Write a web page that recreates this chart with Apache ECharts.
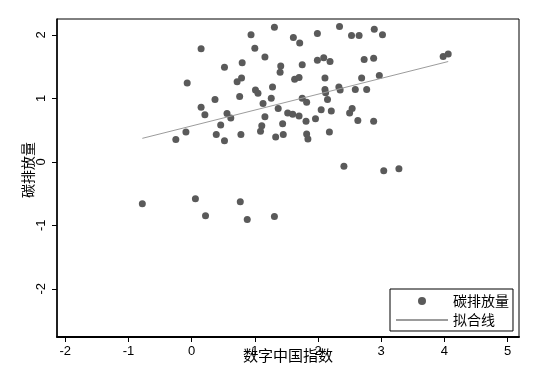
<!DOCTYPE html>
<html>
<head>
<meta charset="utf-8">
<script src="https://cdn.jsdelivr.net/npm/echarts@6/dist/echarts.min.js"></script>
<style>
html,body{margin:0;padding:0;background:#fff;}
#chart{width:538px;height:376px;}
</style>
</head>
<body>
<div id="chart"></div>
<script>
// Scatter data (数字中国指数 vs 碳排放量)
var xVals = [1.31,0.94,1.61,1.71,0.15,1.00,1.16,0.52,0.80,1.41,1.40,1.63,1.70,-0.07,0.79,0.72,0.37,0.76,1.01,1.05,
  1.28,1.26,1.13,1.37,0.15,0.21,0.56,0.62,1.52,1.60,1.70,1.16,0.46,1.11,1.09,1.44,-0.09,-0.25,0.39,0.52,
  0.78,1.33,1.45,2.34,1.99,2.53,2.65,2.89,3.02,1.75,1.99,2.09,2.19,2.73,2.88,3.98,4.06,2.11,2.69,2.97,
  2.11,2.12,2.33,2.35,2.59,2.77,1.75,1.82,2.15,2.05,2.21,2.54,2.50,1.81,1.96,2.63,2.88,1.82,1.84,2.18,
  2.41,3.04,3.28,-0.78,0.06,0.22,0.77,0.88,1.31];
var yVals = [2.12,2.00,1.96,1.87,1.78,1.79,1.65,1.49,1.56,1.51,1.41,1.30,1.33,1.24,1.32,1.26,0.98,1.03,1.13,1.08,
  1.18,1.00,0.92,0.84,0.86,0.74,0.76,0.69,0.77,0.75,0.72,0.71,0.58,0.57,0.48,0.60,0.47,0.35,0.43,0.33,
  0.43,0.39,0.43,2.13,2.02,1.99,1.99,2.09,2.00,1.53,1.60,1.64,1.58,1.61,1.63,1.66,1.70,1.32,1.32,1.36,
  1.14,1.09,1.18,1.13,1.14,1.14,1.00,0.94,0.98,0.82,0.80,0.84,0.77,0.64,0.68,0.65,0.64,0.44,0.36,0.47,
  -0.07,-0.14,-0.11,-0.66,-0.58,-0.85,-0.63,-0.91,-0.86];
// Linear fit endpoints
var fitX = [-0.78, 4.06];
var fitY = [0.37, 1.58];
// Tick labels
var xTicks = [-2,-1,0,1,2,3,4,5];
var yTicks = [-2,-1,0,1,2];
var seriesNames = ['碳排放量','拟合线'];
var xTitle = '数字中国指数';
var yTitle = '碳排放量';

var scatterData = xVals.map(function(v,i){return [v, yVals[i]];});
var fitData = fitX.map(function(v,i){return [v, fitY[i]];});

var latin = '"Liberation Sans", Arial, sans-serif';
var cjk = '"Noto Sans CJK SC", sans-serif';

var chart = echarts.init(document.getElementById('chart'), null, {renderer:'canvas'});
chart.setOption({
  animation:false,
  backgroundColor:'#fff',
  grid:{left:57,right:19,top:19,bottom:39,show:true,borderColor:'#000',borderWidth:1,backgroundColor:'#fff'},
  xAxis:{
    type:'value', min:-2.13, max:5.18,
    splitLine:{show:false},
    axisLine:{show:true,onZero:false,lineStyle:{color:'#000',width:2}},
    axisTick:{show:true,length:5,customValues:xTicks,lineStyle:{color:'#000',width:1}},
    axisLabel:{customValues:xTicks,color:'#000',fontSize:13,fontFamily:latin,margin:8},
    name:xTitle, nameLocation:'middle', nameGap:11, nameMoveOverlap:false,
    nameTextStyle:{fontFamily:cjk,fontSize:15,color:'#000'}
  },
  yAxis:{
    type:'value', min:-2.76, max:2.25,
    splitLine:{show:false},
    axisLine:{show:true,onZero:false,lineStyle:{color:'#000',width:1.5}},
    axisTick:{show:true,length:5,customValues:yTicks,lineStyle:{color:'#000',width:1}},
    axisLabel:{customValues:yTicks,color:'#000',fontSize:13,fontFamily:latin,margin:9,rotate:90},
    name:yTitle, nameLocation:'middle', nameGap:22, nameMoveOverlap:false,
    nameTextStyle:{fontFamily:cjk,fontSize:14,color:'#000',padding:[0,0,0,16]}
  },
  legend:{
    show:true, orient:'vertical', left:390, top:289,
    padding:[5,4,4,5], itemGap:5, itemWidth:52, itemHeight:8,
    borderColor:'#000', borderWidth:1, backgroundColor:'#fff',
    textStyle:{fontFamily:cjk,fontSize:14,color:'#000'},
    data:[{name:seriesNames[0],icon:'circle'},
          {name:seriesNames[1],itemStyle:{opacity:0,color:'rgba(0,0,0,0)',borderWidth:0}}]
  },
  series:[
    {name:seriesNames[0], type:'scatter', data:scatterData, symbol:'circle', symbolSize:7,
     itemStyle:{color:'#5a5a5a',opacity:1}, z:2},
    {name:seriesNames[1], type:'line', data:fitData, symbol:'none', showSymbol:false,
     lineStyle:{color:'#9c9c9c',width:1}, itemStyle:{color:'#9c9c9c'}, z:3}
  ]
});
</script>
</body>
</html>
